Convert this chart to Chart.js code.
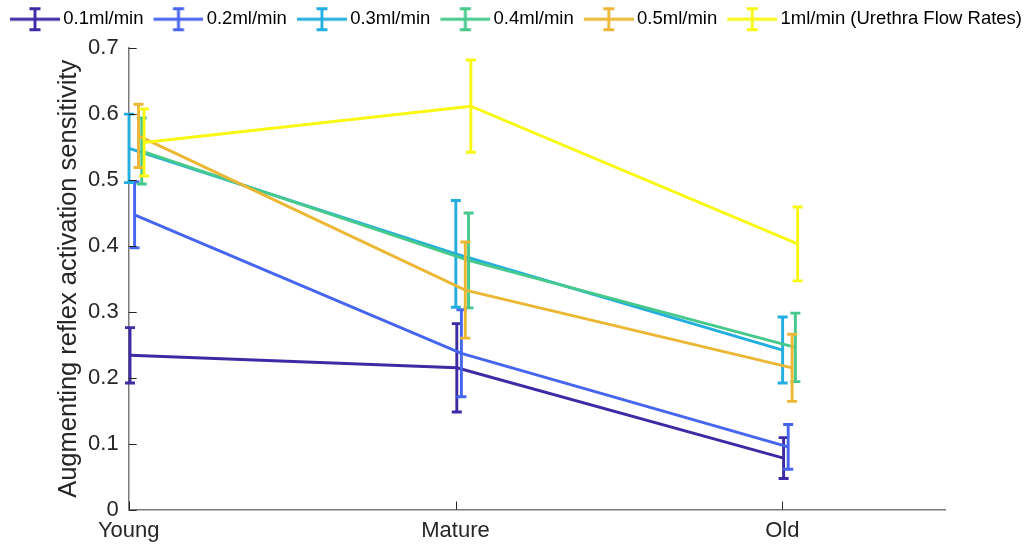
<!DOCTYPE html>
<html>
<head>
<meta charset="utf-8">
<script src="https://cdn.jsdelivr.net/npm/chart.js@4/dist/chart.umd.min.js"></script>
<style>
  html, body { margin: 0; padding: 0; background: #ffffff; }
  #wrap { position: relative; width: 1035px; height: 548px; }
</style>
</head>
<body>
<div id="wrap"><canvas id="chart" width="1035" height="548"></canvas></div>
<script>
// Age groups on the x axis (placed at 1, 2, 3)
const groups = ['Young', 'Mature', 'Old'];
const groupX = [1, 2, 3];

// Y axis ticks
const yTicks = [0, 0.1, 0.2, 0.3, 0.4, 0.5, 0.6, 0.7];
const yTickLabels = ['0', '0.1', '0.2', '0.3', '0.4', '0.5', '0.6', '0.7'];

// Flow-rate series
const seriesNames = ['0.1ml/min', '0.2ml/min', '0.3ml/min', '0.4ml/min', '0.5ml/min', '1ml/min (Urethra Flow Rates)'];

// Small horizontal dodge of each series so the error bars do not overlap
const dodge = [0.004, 0.018, 0.001, 0.040, 0.030, 0.047];

// Mean sensitivity per group (Young, Mature, Old)
const mean01 = [0.234, 0.215, 0.078];
const mean02 = [0.447, 0.237, 0.095];
const mean03 = [0.548, 0.388, 0.242];
const mean04 = [0.544, 0.378, 0.246];
const mean05 = [0.567, 0.333, 0.215];
const mean10 = [0.557, 0.612, 0.403];

// Error half-widths per group
const err01 = [0.042, 0.067, 0.031];
const err02 = [0.050, 0.066, 0.034];
const err03 = [0.052, 0.081, 0.050];
const err04 = [0.050, 0.072, 0.052];
const err05 = [0.048, 0.073, 0.051];
const err10 = [0.051, 0.070, 0.056];

const means = [mean01, mean02, mean03, mean04, mean05, mean10];
const errors = [err01, err02, err03, err04, err05, err10];
const colors = ['#3d2ba6', '#4665f0', '#22aee0', '#46c98b', '#ecb735', '#f8f812'];

const FONT = "'Liberation Sans', Arial, Helvetica, sans-serif";
const LINE_W = 2.9;
const CAP_HALF = 5;

// Legend glyph: a short line with an error-bar "I" in the middle
function makeGlyph(color) {
  const c = document.createElement('canvas');
  c.width = 62; c.height = 26;
  const g = c.getContext('2d');
  g.strokeStyle = color;
  g.lineWidth = LINE_W;
  g.beginPath();
  g.moveTo(12, 13); g.lineTo(62, 13);
  g.moveTo(37, 2.5); g.lineTo(37, 23.5);
  g.moveTo(31.5, 2.5); g.lineTo(42.5, 2.5);
  g.moveTo(31.5, 23.5); g.lineTo(42.5, 23.5);
  g.stroke();
  return c;
}
const glyphs = colors.map(makeGlyph);

const datasets = seriesNames.map((name, i) => ({
  label: name,
  data: means[i].map((v, k) => ({ x: groupX[k] + dodge[i], y: v })),
  borderColor: colors[i],
  backgroundColor: colors[i],
  borderWidth: LINE_W,
  pointRadius: 0,
  pointHoverRadius: 0,
  tension: 0,
  fill: false,
  clip: false,
  order: -i
}));

// Vertical error bars with caps, drawn right after each series line
const errorBars = {
  id: 'errorBars',
  afterDatasetDraw(chart, args) {
    const i = args.index;
    const xs = chart.scales.x, ys = chart.scales.y;
    const ctx = chart.ctx;
    ctx.save();
    ctx.strokeStyle = colors[i];
    ctx.lineWidth = LINE_W;
    ctx.beginPath();
    means[i].forEach((v, k) => {
      const px = xs.getPixelForValue(groupX[k] + dodge[i]);
      const top = ys.getPixelForValue(v + errors[i][k]);
      const bot = ys.getPixelForValue(v - errors[i][k]);
      ctx.moveTo(px, top); ctx.lineTo(px, bot);
      ctx.moveTo(px - CAP_HALF, top); ctx.lineTo(px + CAP_HALF, top);
      ctx.moveTo(px - CAP_HALF, bot); ctx.lineTo(px + CAP_HALF, bot);
    });
    ctx.stroke();
    ctx.restore();
  }
};

// Tick marks pointing into the plot area
const innerTicks = {
  id: 'innerTicks',
  afterDraw(chart) {
    const { ctx, chartArea: a, scales: { x, y } } = chart;
    ctx.save();
    ctx.strokeStyle = '#262626';
    ctx.lineWidth = 1;
    ctx.beginPath();
    x.ticks.forEach(t => {
      const px = Math.round(x.getPixelForValue(t.value)) + 0.5;
      ctx.moveTo(px, a.bottom); ctx.lineTo(px, a.bottom - 8);
    });
    y.ticks.forEach(t => {
      const py = Math.round(y.getPixelForValue(t.value)) + 0.5;
      ctx.moveTo(a.left, py); ctx.lineTo(a.left + 8, py);
    });
    ctx.stroke();
    ctx.restore();
  }
};

new Chart(document.getElementById('chart'), {
  type: 'line',
  data: { datasets },
  plugins: [errorBars, innerTicks],
  options: {
    responsive: false,
    animation: false,
    devicePixelRatio: 1,
    events: [],
    layout: { padding: { top: 6, left: 0, right: 0, bottom: 0 } },
    plugins: {
      tooltip: { enabled: false },
      title: {
        display: true,
        text: '',
        weight: 500,
        font: { size: 8, lineHeight: 1 },
        padding: { top: 0.85, bottom: 0.85 }
      },
      legend: {
        display: true,
        position: 'top',
        align: 'start',
        labels: {
          usePointStyle: true,
          pointStyleWidth: 50,
          padding: 4,
          color: '#000000',
          font: { family: FONT, size: 18.5 },
          generateLabels: chart => chart.data.datasets.map((ds, i) => ({
            text: ds.label,
            pointStyle: glyphs[i],
            fillStyle: colors[i],
            strokeStyle: colors[i],
            lineWidth: 0,
            hidden: false,
            datasetIndex: i,
            fontColor: '#000000'
          }))
        }
      }
    },
    scales: {
      x: {
        type: 'linear',
        min: 1,
        max: 3.5,
        afterBuildTicks: s => { s.ticks = groupX.map(v => ({ value: v })); },
        afterFit: s => { s.height = 38.5; },
        grid: { display: false, drawTicks: false },
        border: { display: true, color: '#7a7a7a', width: 1.5 },
        ticks: {
          autoSkip: false,
          maxRotation: 0,
          padding: 8,
          color: '#262626',
          font: { family: FONT, size: 22 },
          callback: v => { const k = groupX.indexOf(v); return k >= 0 ? groups[k] : ''; }
        }
      },
      y: {
        type: 'linear',
        min: 0,
        max: 0.7,
        afterBuildTicks: s => { s.ticks = yTicks.map(v => ({ value: v })); },
        afterFit: s => { s.width = 128.7; },
        grid: { display: false, drawTicks: false },
        border: { display: true, color: '#7a7a7a', width: 1.5 },
        ticks: {
          padding: 10,
          color: '#262626',
          font: { family: FONT, size: 22 },
          callback: (v, idx) => yTickLabels[idx]
        },
        title: {
          display: true,
          text: 'Augmenting reflex activation sensitivity',
          color: '#262626',
          font: { family: FONT, size: 25.5 },
          padding: { top: 54, bottom: 0 }
        }
      },
      yRight: {
        position: 'right',
        display: true,
        afterFit: s => { s.width = 89.3; },
        grid: { display: false, drawTicks: false },
        border: { display: false },
        ticks: { display: false }
      }
    }
  }
});
</script>
</body>
</html>
